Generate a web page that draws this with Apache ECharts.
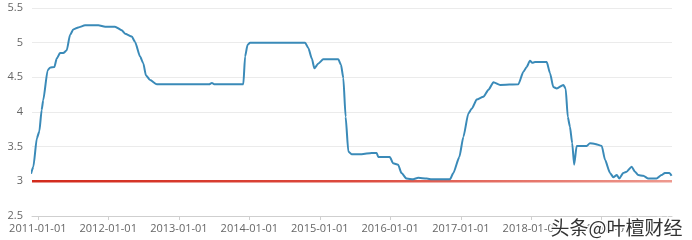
<!DOCTYPE html>
<html><head><meta charset="utf-8">
<script src="https://cdn.jsdelivr.net/npm/echarts@6/dist/echarts.min.js"></script>
<style>html,body{margin:0;padding:0;background:#fff}#c{width:692px;height:240px}</style>
</head><body><div id="c"></div>
<script>
var dates = ['2010-11-27','2010-12-09','2010-12-27','2011-01-09','2011-01-21','2011-01-29','2011-02-21','2011-03-05','2011-03-28','2011-04-09','2011-04-26','2011-05-13','2011-05-31','2011-06-17','2011-07-04','2011-07-30','2011-09-03','2011-11-11','2011-12-16','2012-02-05','2012-03-11','2012-03-28','2012-05-02','2012-05-19','2012-06-14','2012-07-01','2012-07-14','2012-08-05','2012-09-09','2013-06-07','2013-06-21','2013-07-03','2013-12-01','2013-12-10','2013-12-23','2014-01-05','2014-10-17','2014-11-03','2014-11-21','2014-12-04','2014-12-25','2015-01-19','2015-04-07','2015-04-21','2015-05-03','2015-05-15','2015-05-29','2015-06-15','2015-08-06','2015-09-27','2015-10-23','2015-10-31','2015-12-30','2016-01-16','2016-02-11','2016-02-28','2016-03-26','2016-04-29','2016-05-25','2016-07-08','2016-08-03','2016-11-06','2016-11-23','2016-12-24','2017-01-14','2017-02-09','2017-02-27','2017-03-24','2017-04-28','2017-05-24','2017-06-19','2017-07-24','2017-10-26','2017-11-21','2017-12-08','2017-12-25','2018-01-06','2018-01-20','2018-03-22','2018-04-08','2018-04-25','2018-05-13','2018-06-16','2018-06-28','2018-07-09','2018-07-20','2018-08-01','2018-08-11','2018-08-24','2018-10-15','2018-11-01','2018-11-27','2019-01-01','2019-01-18','2019-02-13','2019-03-02','2019-03-20','2019-04-02','2019-04-22','2019-05-10','2019-06-05','2019-06-22','2019-07-09','2019-08-04','2019-08-30','2019-10-12','2019-11-07','2019-11-24','2019-12-17','2019-12-29'];
var values = [3.11,3.21,3.62,3.72,4.03,4.17,4.60,4.64,4.65,4.77,4.85,4.85,4.89,5.11,5.19,5.22,5.25,5.25,5.23,5.23,5.18,5.13,5.09,5.01,4.80,4.70,4.53,4.46,4.40,4.40,4.42,4.40,4.40,4.80,4.97,5.00,5.00,4.92,4.77,4.63,4.70,4.76,4.76,4.68,4.49,3.93,3.43,3.39,3.39,3.41,3.41,3.35,3.35,3.26,3.24,3.12,3.04,3.03,3.05,3.04,3.03,3.03,3.12,3.35,3.64,3.98,4.05,4.18,4.22,4.32,4.43,4.39,4.40,4.58,4.65,4.74,4.71,4.72,4.72,4.56,4.36,4.34,4.39,4.34,3.93,3.79,3.55,3.24,3.51,3.51,3.55,3.54,3.51,3.31,3.12,3.06,3.09,3.04,3.12,3.14,3.21,3.14,3.09,3.08,3.04,3.04,3.09,3.12,3.12,3.08];
var refDates = ['2010-12-02','2019-12-31'];
var refValues = [3, 3];
var yTicks = [2.5, 3, 3.5, 4, 4.5, 5, 5.5];
var watermark = '头条@叶檀财经';

var mainData = dates.map(function(d, i){ return [d, values[i]]; });
var refData = refDates.map(function(d, i){ return [d, refValues[i]]; });
var DAY = 24*3600*1000;
var chart = echarts.init(document.getElementById('c'));
chart.setOption({
  animation: false,
  grid: {left: 32, right: 20, top: 8, bottom: 24, containLabel: false},
  xAxis: {
    type: 'time',
    min: refDates[0], max: refDates[1],
    minInterval: 365*DAY, maxInterval: 366*DAY,
    axisLine: {lineStyle: {color: '#cfcfcf'}},
    axisTick: {show: true, length: 4, lineStyle: {color: '#cfcfcf'}},
    splitLine: {show: false},
    axisLabel: {color: '#666', fontSize: 11, fontFamily: 'Open Sans', margin: 7,
      showMinLabel: false, showMaxLabel: false,
      formatter: function(v){ var d = new Date(v); return d.getFullYear() + '-01-01'; }}
  },
  yAxis: {
    type: 'value', min: yTicks[0], max: yTicks[yTicks.length-1], interval: 0.5,
    axisLine: {show: false}, axisTick: {show: false},
    splitLine: {lineStyle: {color: '#ebebeb'}},
    axisLabel: {color: '#666', fontSize: 11, fontFamily: 'Open Sans', margin: 9}
  },
  series: [
    {type: 'line', data: refData, symbol: 'none', z: 1,
     lineStyle: {width: 2.5, color: new echarts.graphic.LinearGradient(0,0,1,0,[{offset:0,color:'#d22a1c'},{offset:0.5,color:'#dc4a3e'},{offset:1,color:'#ee9a90'}])}},
    {type: 'line', data: mainData, symbol: 'none', smooth: 0.2, smoothMonotone: 'x', z: 2,
     lineStyle: {width: 2, color: '#3a8ab8'}}
  ],
  graphic: [{type: 'text', right: 8, bottom: 1, z: 100,
    style: {text: watermark, fontSize: 19, fontFamily: 'Noto Sans CJK SC', fill: '#333', stroke: '#fff', lineWidth: 3}}]
});
</script></body></html>
